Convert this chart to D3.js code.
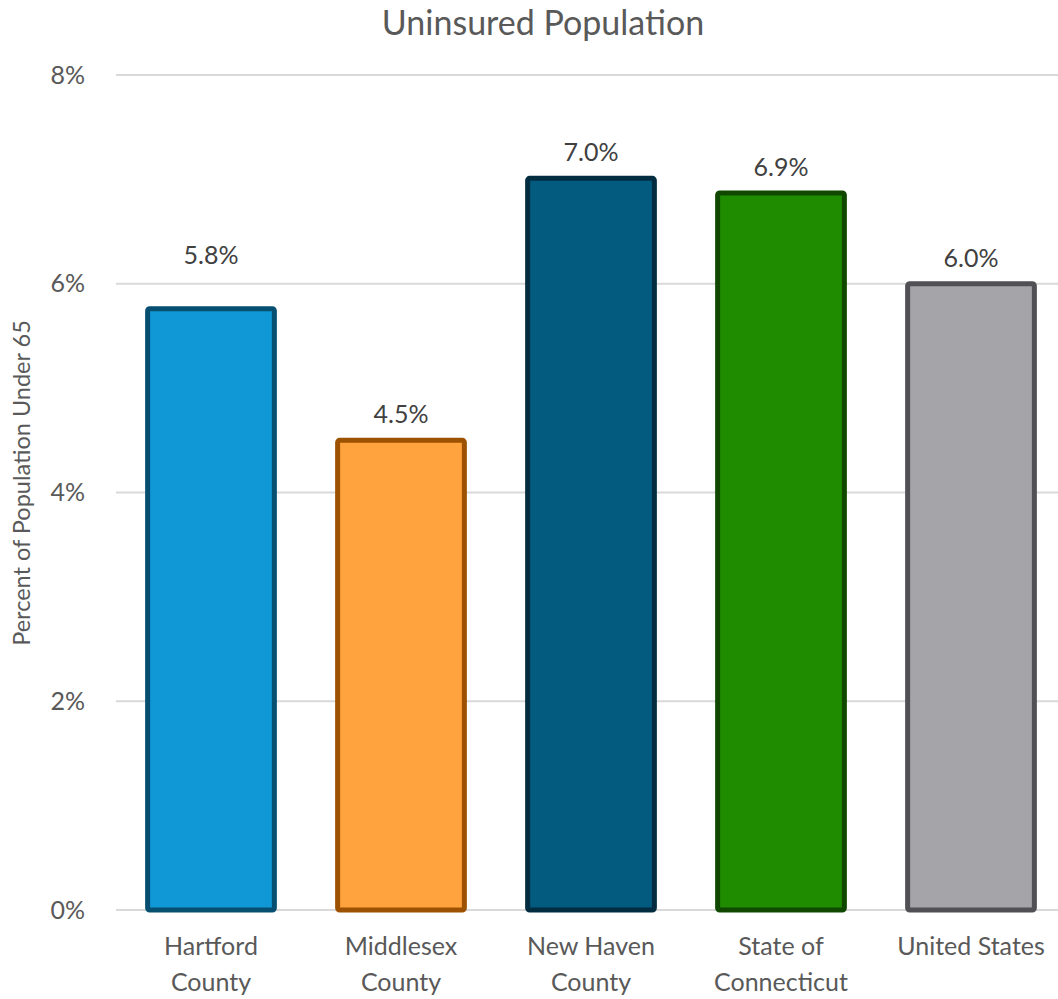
<!DOCTYPE html>
<html>
<head>
<meta charset="utf-8">
<script src="https://cdn.jsdelivr.net/npm/d3@7"></script>
<style>
  body { margin: 0; background: #fff; }
  text { font-family: Lato, "Open Sans", sans-serif; }
</style>
</head>
<body>
<svg id="chart" width="1058" height="999"></svg>
<script>
(function() {

  // ----------
  var categories = [['Hartford', 'County'], ['Middlesex', 'County'], ['New Haven', 'County'], ['State of', 'Connecticut'], ['United States']];
  var values = [5.76, 4.5, 7.01, 6.87, 6.0];
  var labels = ['5.8%', '4.5%', '7.0%', '6.9%', '6.0%'];
  var fills = ['#1097d5', '#ffa33f', '#035b80', '#1f8c00', '#a5a5a9'];
  var strokes = ['#064f70', '#9c5200', '#022d40', '#104800', '#505055'];
  var yTicks = [0, 2, 4, 6, 8];

  var svg = d3.select('#chart');

  var x = d3.scaleBand()
    .domain(d3.range(values.length))
    .range([116, 1066])
    .paddingInner(0.333)
    .paddingOuter(0.1665);

  var y = d3.scaleLinear()
    .domain([0, 8])
    .range([910, 75]);

  // excel pushed the first label up to clear the gridline
  var labelLift = function(i) { return i === 0 ? 45 : 17; };

  // ----------
  svg.append('text')
    .attr('x', 543)
    .attr('y', 35)
    .attr('text-anchor', 'middle')
    .style('font-size', '34px')
    .style('fill', '#595959')
    .text('Uninsured Population');

  // gridlines
  svg.append('g')
    .selectAll('line')
    .data(yTicks)
    .join('line')
      .attr('x1', 116)
      .attr('x2', 1058)
      .attr('y1', function(d) { return y(d); })
      .attr('y2', function(d) { return y(d); })
      .style('stroke', '#d9d9d9')
      .style('stroke-width', 2);

  var yAxis = svg.append('g')
    .attr('transform', 'translate(88,0)')
    .call(d3.axisLeft(y).tickValues(yTicks).tickSize(0).tickFormat(function(d) { return d + '%'; }));
  yAxis.select('.domain').remove();
  yAxis.selectAll('text')
    .style('font-size', '25px')
    .style('fill', '#595959')
    .style('font-family', 'Lato, "Open Sans", sans-serif')
    .attr('text-anchor', 'end');

  svg.append('text')
    .attr('transform', 'translate(30,483) rotate(-90)')
    .attr('text-anchor', 'middle')
    .style('font-size', '23.5px')
    .style('fill', '#595959')
    .text('Percent of Population Under 65');

  // ----------
  svg.append('g')
    .selectAll('rect')
    .data(values)
    .join('rect')
      .attr('x', function(d, i) { return x(i); })
      .attr('y', function(d) { return y(d); })
      .attr('width', x.bandwidth())
      .attr('height', function(d) { return y(0) - y(d); })
      .attr('rx', 2)
      .style('fill', function(d, i) { return fills[i]; })
      .style('stroke', function(d, i) { return strokes[i]; })
      .style('stroke-width', 5);

  svg.append('g')
    .selectAll('text')
    .data(values)
    .join('text')
      .attr('x', function(d, i) { return x(i) + x.bandwidth() / 2; })
      .attr('y', function(d, i) { return y(d) - labelLift(i); })
      .attr('text-anchor', 'middle')
      .style('font-size', '25px')
      .style('fill', '#404040')
      .text(function(d, i) { return labels[i]; });

  var catText = svg.append('g')
    .selectAll('text')
    .data(categories)
    .join('text')
      .attr('x', function(d, i) { return x(i) + x.bandwidth() / 2; })
      .attr('y', 955)
      .attr('text-anchor', 'middle')
      .style('font-size', '25px')
      .style('fill', '#595959');

  catText.selectAll('tspan')
    .data(function(d) { return d; })
    .join('tspan')
      .attr('x', function() { return this.parentNode.getAttribute('x'); })
      .attr('dy', function(d, j) { return j === 0 ? 0 : 36; })
      .text(function(d) { return d; });

})();
</script>
</body>
</html>
